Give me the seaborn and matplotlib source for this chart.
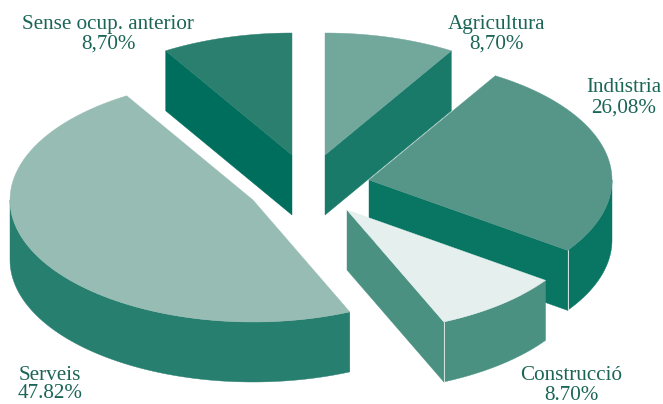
import numpy as np
import matplotlib
matplotlib.use("Agg")
import matplotlib.pyplot as plt
import seaborn as sns

# Data
categories = ["Agricultura", "Indústria", "Construcció", "Serveis", "Sense ocup. anterior"]
values = [8.70, 26.08, 8.70, 47.82, 8.70]
value_labels = ["8,70%", "26,08%", "8.70%", "47.82%", "8,70%"]

# Styling
top_colors = ["#72a79c", "#559689", "#e5efed", "#97bcb3", "#2a7f6f"]
wall_colors = ["#1a7a69", "#087663", "#4a9181", "#277f6f", "#006e5c"]
centers = [(325, 155), (369, 180), (347, 210), (253, 200), (292, 155)]   # exploded apex of each slice (px)
label_pos = [(497, 24), (624, 88), (571, 376), (50, 375), (108, 24)]
value_gap = [20, 20, 19, 19, 20]
RX, RY, DEPTH = 243, 122, 60
TEXT = "#1b6557"

sns.set_theme(style="white")
plt.rcParams["font.family"] = ["Liberation Serif", "DejaVu Serif"]

fig = plt.figure(figsize=(6.63, 4.04), dpi=100)
ax = fig.add_axes([0, 0, 1, 1])
ax.set_xlim(0, 663)
ax.set_ylim(404, 0)
ax.axis("off")
sns.despine(ax=ax, left=True, bottom=True)

edges = np.concatenate([[0], np.cumsum(values)]) / np.sum(values) * 2 * np.pi


def arc(c, a0, a1, n=80):
    t = np.linspace(a0, a1, n)
    return c[0] + RX * np.sin(t), c[1] - RY * np.cos(t)


# Back-to-front painting; a cut face shows only if its outward normal points down the page
paint = [4, 0, 1, 3, 2]
for order, i in enumerate(paint):
    a0, a1 = edges[i], edges[i + 1]
    c = centers[i]
    mid = (a0 + a1) / 2
    for a in (a0, a1):
        nx, ny = np.cos(a), np.sin(a)
        if nx * np.sin(mid) - ny * np.cos(mid) > 0:
            nx, ny = -nx, -ny
        if ny > 0.05:
            xe, ye = c[0] + RX * np.sin(a), c[1] - RY * np.cos(a)
            ax.fill([c[0], xe, xe, c[0]], [c[1], ye, ye + DEPTH, c[1] + DEPTH],
                    color=wall_colors[i], lw=0.3, zorder=order)
    lo, hi = max(a0, np.pi / 2), min(a1, 3 * np.pi / 2)
    if lo < hi:
        x, y = arc(c, lo, hi)
        ax.fill(np.r_[x, x[::-1]], np.r_[y, y[::-1] + DEPTH],
                color=wall_colors[i], lw=0.3, zorder=order)
    # pale hairline at the corner between the cut face and the outer wall
    if i in (1, 2):
        xe, ye = c[0] + RX * np.sin(a1), c[1] - RY * np.cos(a1)
        ax.plot([xe, xe], [ye, ye + DEPTH], color="#d5e6e1", lw=0.7, zorder=order + 0.1)
    x, y = arc(c, a0, a1)
    ax.fill(np.r_[c[0], x], np.r_[c[1], y], color=top_colors[i], lw=0.3, zorder=order + 0.2)

for name, val, (x, y), gap in zip(categories, value_labels, label_pos, value_gap):
    ax.text(x, y, name, ha="center", va="center", fontsize=15.2, color=TEXT, zorder=10)
    ax.text(x, y + gap, val, ha="center", va="center", fontsize=15.2, color=TEXT, zorder=10)

fig.savefig("out.png", dpi=100)
